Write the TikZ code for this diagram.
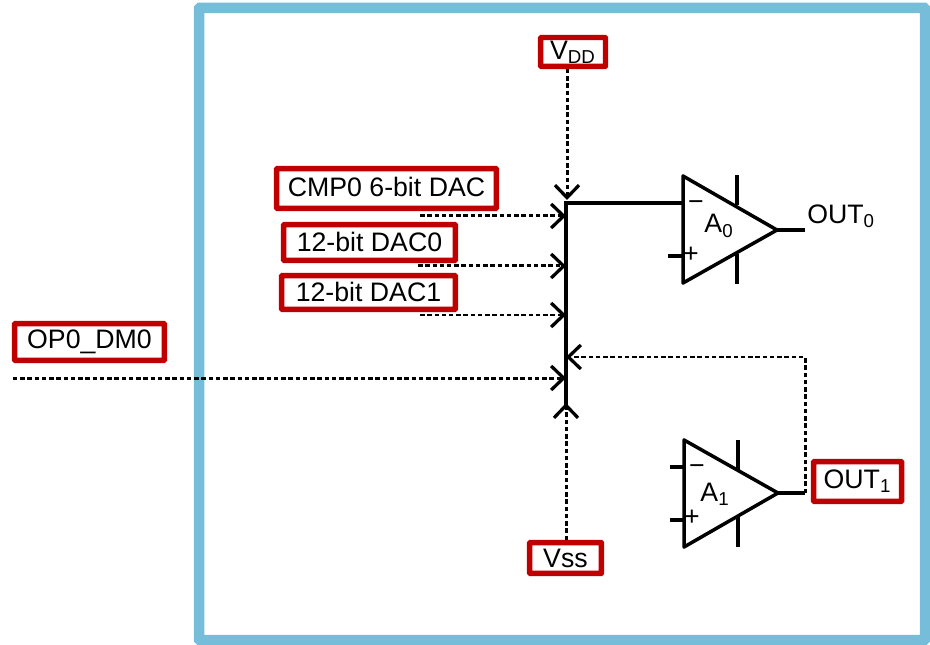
\documentclass[tikz,border=0pt]{standalone}
\usepackage{fontspec}
\setmainfont{Liberation Sans}
\usetikzlibrary{arrows.meta}
\begin{document}
\begin{tikzpicture}[x=0.02cm, y=-0.02cm, every node/.style={font=\fontsize{15.2}{18}\selectfont, inner sep=0pt},
  redbox/.style={draw=boxred, line width=0.11cm, rounded corners=0.5pt, fill=white},
  wire/.style={line width=0.07cm, black},
  sig/.style={line width=0.06cm, black, dash pattern=on 0.09cm off 0.055cm, -{Straight Barb[length=0.25cm, width=0.48cm, line width=0.065cm]}}]
  \definecolor{boxred}{HTML}{C00000}
  \definecolor{frameblue}{HTML}{75BDD8}
  \useasboundingbox (0,0) rectangle (930,645);
  \draw[frameblue, line width=0.21cm, rounded corners=0.5pt] (199,8) rectangle (925,640);

  % labels
  \node[redbox, minimum width=1.3cm, minimum height=0.58cm] (vdd) at (573,52) {\raisebox{1pt}{V\textsubscript{DD}}};
  \node[redbox, minimum width=4.4cm, minimum height=0.8cm] (cmp) at (386.5,188.5) {\raisebox{1.5pt}{CMP0 6-bit DAC}};
  \node[redbox, minimum width=3.44cm, minimum height=0.72cm] (daca) at (369.5,242.5) {\raisebox{1.3pt}{12-bit DAC0}};
  \node[redbox, minimum width=3.48cm, minimum height=0.68cm] (dacb) at (368.5,292.5) {\raisebox{1pt}{12-bit DAC1}};
  \node[redbox, minimum width=3cm, minimum height=0.74cm] (dm) at (89.5,342) {\raisebox{-0.5pt}{OP0\_DM0}};
  \node[redbox, minimum width=1.76cm, minimum height=0.8cm] (outb) at (857.5,481.5) {OUT\textsubscript{1}};
  \node[redbox, minimum width=1.44cm, minimum height=0.62cm] (vss) at (565.5,558) {Vss};

  % bus
  \coordinate (bustop) at (566,203);
  \coordinate (buslow) at (566,405);
  \coordinate (busend) at (566,403);
  \coordinate (ina) at (683,203);
  \draw[wire, line join=miter] (ina) -- (bustop) -- (buslow);

  % amplifier 0
  \coordinate (ap) at (683,176);
  \coordinate (aq) at (683,283);
  \coordinate (ar) at (777,230);
  \draw[wire, line join=round] (ap) -- (ar) -- (aq) -- cycle;
  \coordinate (atop) at (737,175); \coordinate (atopb) at (737,205);
  \coordinate (abot) at (737,284); \coordinate (abotb) at (737,254);
  \draw[wire] (atop) -- (atopb);
  \draw[wire] (abot) -- (abotb);
  \coordinate (astub) at (668,256); \coordinate (astubb) at (683,256);
  \draw[wire] (astub) -- (astubb);
  \coordinate (aout) at (805,230);
  \draw[wire] (ar) -- (aout);
  \node (aminus) at (696,206) {−};
  \node (aplus) at (691,255) {+};
  \node (alabel) at (719,226) {A\textsubscript{0}};
  \node[anchor=west] (outa) at (807,216) {OUT\textsubscript{0}};

  % amplifier 1
  \coordinate (bp) at (684,440);
  \coordinate (bq) at (684,547);
  \coordinate (br) at (778,493);
  \draw[wire, line join=round] (bp) -- (br) -- (bq) -- cycle;
  \coordinate (btop) at (738,440); \coordinate (btopb) at (738,470);
  \coordinate (bbot) at (738,547); \coordinate (bbotb) at (738,516);
  \draw[wire] (btop) -- (btopb);
  \draw[wire] (bbot) -- (bbotb);
  \coordinate (bstub) at (670,467); \coordinate (bstubb) at (684,467);
  \draw[wire] (bstub) -- (bstubb);
  \coordinate (cstub) at (670,520); \coordinate (cstubb) at (684,520);
  \draw[wire] (cstub) -- (cstubb);
  \coordinate (bout) at (805,493);
  \draw[wire] (br) -- (bout);
  \node (bminus) at (697,470) {−};
  \node (bplus) at (692,518) {+};
  \node (blabel) at (715,494) {A\textsubscript{1}};

  % dotted inputs
  \coordinate (vddin) at (567,69); \coordinate (vddto) at (567,200);
  \coordinate (cmpin) at (420,216); \coordinate (cmpto) at (566,216);
  \coordinate (dain) at (418,266); \coordinate (dato) at (566,266);
  \coordinate (dbin) at (420,315); \coordinate (dbto) at (566,315);
  \coordinate (dmin) at (13,378); \coordinate (dmto) at (566,378);
  \coordinate (vssin) at (566,540);
  \coordinate (fbcorner) at (805,357); \coordinate (fbto) at (566,357);
  \draw[sig] (vddin) -- (vddto);
  \draw[sig] (cmpin) -- (cmpto);
  \draw[sig] (dain) -- (dato);
  \draw[sig] (dbin) -- (dbto);
  \draw[sig] (dmin) -- (dmto);
  \draw[sig] (vssin) -- (busend);
  \draw[sig] (bout) -- (fbcorner) -- (fbto);
\end{tikzpicture}
\end{document}
